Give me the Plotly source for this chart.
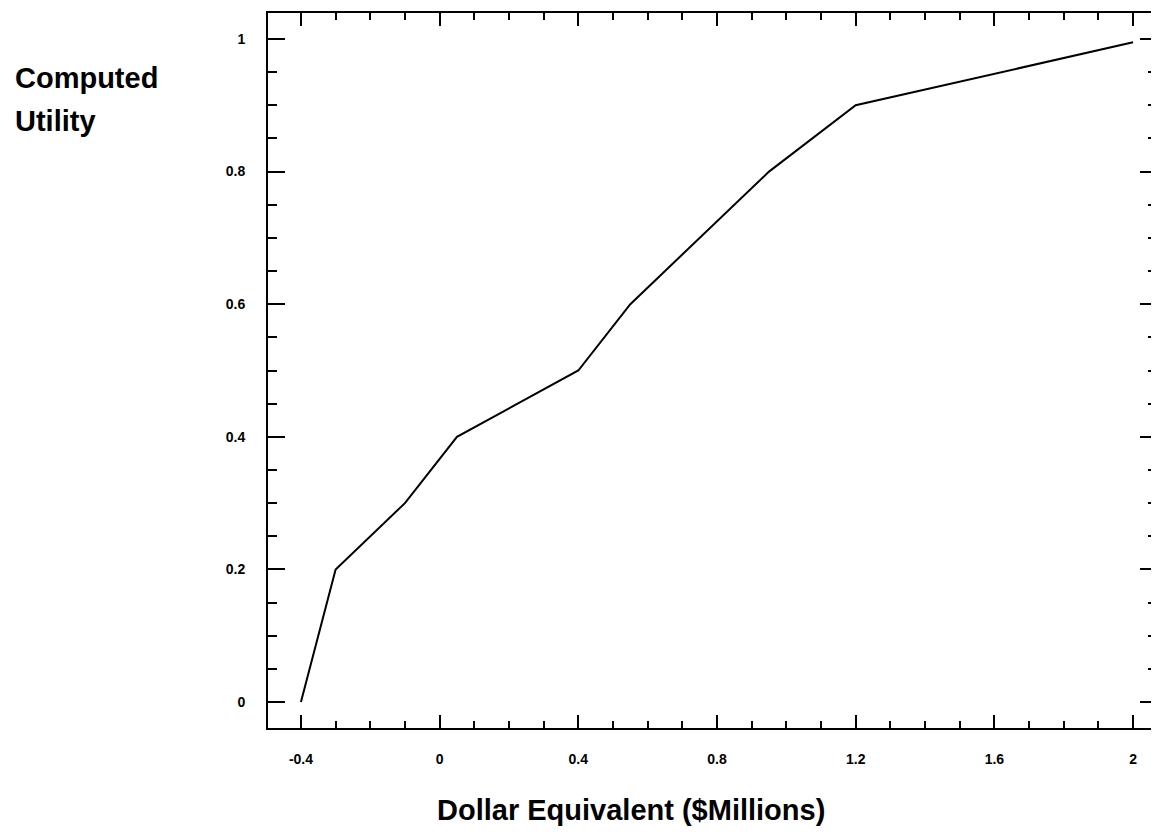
import plotly.graph_objects as go

dollar_equiv = [-0.4, -0.3, -0.1, 0.05, 0.4, 0.55, 0.95, 1.2, 2.0]
utility = [0.0, 0.2, 0.3, 0.4, 0.5, 0.6, 0.8, 0.9, 0.995]

x_tickvals = [-0.4, 0, 0.4, 0.8, 1.2, 1.6, 2]
x_ticktext = ["-0.4", "0", "0.4", "0.8", "1.2", "1.6", "2"]
y_tickvals = [0, 0.2, 0.4, 0.6, 0.8, 1]
y_ticktext = ["0", "0.2", "0.4", "0.6", "0.8", "1"]

FONT = "Liberation Sans, Arial, sans-serif"

# page has an 8px body margin; plot area should span page x 268..1159, y 13..728
OFF = 8
PL, PT, PB = 268, 13, 728
PW = 1159 - PL
PH = PB - PT

fig = go.Figure()
fig.add_trace(go.Scatter(x=dollar_equiv, y=utility, mode="lines",
                         line=dict(color="black", width=2), showlegend=False,
                         hoverinfo="skip"))

fig.update_layout(
    width=1159 - OFF, height=836 - OFF,
    margin=dict(l=PL - OFF, r=0, t=PT - OFF, b=836 - PB),
    paper_bgcolor="white", plot_bgcolor="white",
    font=dict(family=FONT, color="black"),
    xaxis=dict(range=[-0.495, -0.495 + PW / 347.5], showgrid=False, zeroline=False,
               showline=True, linecolor="black", linewidth=2, mirror="ticks",
               ticks="inside", ticklen=13, tickwidth=2, tickcolor="black",
               tickvals=x_tickvals, ticktext=x_ticktext,
               tickfont=dict(size=14, family=FONT, weight="bold"),
               ticklabelstandoff=17,
               minor=dict(dtick=0.1, tick0=0, ticks="inside", ticklen=7,
                          tickwidth=2, tickcolor="black", showgrid=False)),
    yaxis=dict(range=[-0.0392, 1.0392], showgrid=False, zeroline=False,
               showline=True, linecolor="black", linewidth=2, mirror="ticks",
               ticks="inside", ticklen=17, tickwidth=2, tickcolor="black",
               tickvals=y_tickvals, ticktext=y_ticktext,
               tickfont=dict(size=14, family=FONT, weight="bold"),
               ticklabelstandoff=18,
               minor=dict(dtick=0.05, tick0=0, ticks="inside", ticklen=9,
                          tickwidth=2, tickcolor="black", showgrid=False)),
)

def px(x):
    return (x - PL) / PW

def py(y):
    return (PB - y) / PH

fig.add_annotation(text="Computed", xref="paper", yref="paper",
                   x=px(12), y=py(78), xanchor="left", yanchor="middle",
                   showarrow=False, font=dict(size=29, family=FONT, weight="bold"))
fig.add_annotation(text="Utility", xref="paper", yref="paper",
                   x=px(12), y=py(121), xanchor="left", yanchor="middle",
                   showarrow=False, font=dict(size=29, family=FONT, weight="bold"))
fig.add_annotation(text="Dollar Equivalent ($Millions)", xref="paper", yref="paper",
                   x=px(632), y=py(810), xanchor="center", yanchor="middle",
                   showarrow=False, font=dict(size=29, family=FONT, weight="bold"))

fig.write_html("out.html")
